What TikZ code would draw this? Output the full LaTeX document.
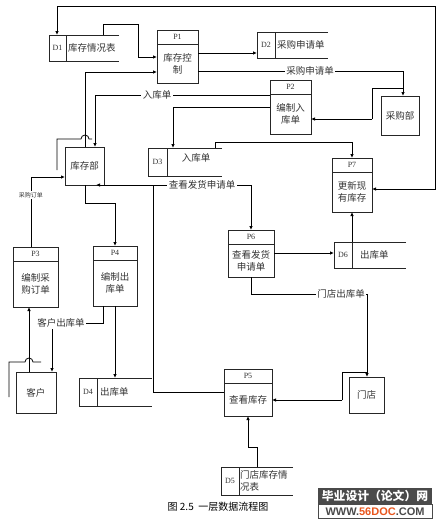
\documentclass[tikz,border=0pt]{standalone}
\usepackage{fontspec}
\setmainfont{Liberation Serif}
\newfontfamily\cjk{Noto Sans CJK SC}
\newfontfamily\wmfont{Liberation Sans}
\usetikzlibrary{arrows.meta,positioning,calc}
\definecolor{wmgray}{HTML}{4A4A4A}
\definecolor{wmorange}{HTML}{E8561E}
\tikzset{
  >={Latex[length=4pt,width=3.5pt]},
  box/.style={draw=black!85,line width=0.8pt},
  proc/.style={box,inner sep=0pt,outer sep=0pt},
  ent/.style={box,inner sep=0pt,outer sep=0pt},
  store/.style={inner sep=0pt,outer sep=0pt},
  txt/.style={font=\cjk\fontsize{9.5}{12}\selectfont,align=center,inner sep=1pt,text=black!80},
  pid/.style={font=\fontsize{8}{9}\selectfont,inner sep=0pt,text=black!80},
  lbl/.style={txt,fill=white,inner sep=1.5pt},
  line/.style={line width=0.8pt},
  flow/.style={line,->},
}
\begin{document}
\begin{tikzpicture}[x=1pt,y=-1pt]
  \useasboundingbox (0,0) rectangle (443,525);
  % processes
  \node[proc,minimum width=41,minimum height=53] (p1) at (177.5,56.5) {};
  \node[proc,minimum width=41,minimum height=54] (p2) at (290.5,107) {};
  \node[proc,minimum width=45,minimum height=60] (p3) at (35.5,277) {};
  \node[proc,minimum width=44,minimum height=60] (p4) at (115,276) {};
  \node[proc,minimum width=48,minimum height=47] (p5) at (248,392.5) {};
  \node[proc,minimum width=46,minimum height=47] (p6) at (251,253.5) {};
  \node[proc,minimum width=40,minimum height=54] (p7) at (352,185) {};
  \foreach \p/\i in {p1/P1,p2/P2,p3/P3,p4/P4,p5/P5,p6/P6,p7/P7} {
    \draw[box] ($(\p.north west)+(0,14)$) -- ($(\p.north east)+(0,14)$);
    \node[pid] (\p-id) at ($(\p.north)+(0,7)$) {\i};
  }
  \node[txt] (p1-t) at ($(p1.center)+(0,7)$) {库存控\\制};
  \node[txt] (p2-t) at ($(p2.center)+(0,7)$) {编制入\\库单};
  \node[txt] (p3-t) at ($(p3.center)+(0,7)$) {编制采\\购订单};
  \node[txt] (p4-t) at ($(p4.center)+(0,7)$) {编制出\\库单};
  \node[txt] (p5-t) at ($(p5.center)+(0,7)$) {查看库存};
  \node[txt] (p6-t) at ($(p6.center)+(0,7)$) {查看发货\\申请单};
  \node[txt] (p7-t) at ($(p7.center)+(0,7)$) {更新现\\有库存};
  % data stores
  \node[store,minimum width=70,minimum height=26] (d1) at (84,48) {};
  \node[store,minimum width=71,minimum height=26] (d2) at (292.5,45) {};
  \node[store,minimum width=74,minimum height=28] (d3) at (185,162) {};
  \node[store,minimum width=73,minimum height=28] (d4) at (115.5,392) {};
  \node[store,minimum width=72,minimum height=28] (d5) at (257,481) {};
  \node[store,minimum width=72,minimum height=26] (d6) at (370,255) {};
  \foreach \d/\k/\i in {d1/17/D1,d2/18/D2,d3/19/D3,d4/18/D4,d5/18/D5,d6/18/D6} {
    \draw[box] (\d.north east) -- (\d.north west) -- (\d.south west) -- (\d.south east)
      ($(\d.north west)+(\k,0)$) -- ($(\d.south west)+(\k,0)$);
    \node[pid] (\d-id) at ($(\d.west)+(\k/2,0)$) {\i};
  }
  \node[txt,anchor=west] (d1-t) at ($(d1.west)+(18,0)$) {库存情况表};
  \node[txt,anchor=west] (d2-t) at ($(d2.west)+(19,0)$) {采购申请单};
  \node[txt] (d3-t) at (196,158) {入库单};
  \node[txt,anchor=west] (d4-t) at ($(d4.west)+(20,0)$) {出库单};
  \node[txt,anchor=west,align=left] (d5-t) at ($(d5.west)+(18,0)$) {门店库存情\\况表};
  \node[txt,anchor=west] (d6-t) at ($(d6.west)+(25,0)$) {出库单};
  % external entities
  \node[txt,ent,minimum width=39,minimum height=38] (kc) at (84.5,166) {库存部};
  \node[txt,ent,minimum width=38,minimum height=39] (cg) at (400,115.5) {采购部};
  \node[txt,ent,minimum width=40,minimum height=41] (kh) at (36,392.5) {客户};
  \node[txt,ent,minimum width=35,minimum height=36] (md) at (366.5,395) {门店};
  \coordinate (cgb) at (372,119);
  \coordinate (mdb) at (342,400);
  \draw[line] (57,170) -- (57,139) -- (81,139) arc[start angle=180,end angle=360,radius=4] -- (92,139);
  \draw[line] (9,397) -- (9,362) -- (25,362) arc[start angle=180,end angle=360,radius=4] -- (41,362);
  \draw[line] (cgb) -- (372,88) -- (403,88);
  \draw[line] (mdb) -- (342,372) -- (367,372);
  % flows
  \draw[line,<->] ($(d1.north west)+(8,0)$) |- (435,6) |- (p7.east |- 0,189);
  \draw[flow] ($(d1.north west)+(54,0)$) |- (138,24) |- (p1.west |- 0,57);
  \draw[flow] (p1.east |- 0,53) -- (d2.west |- 0,53);
  \draw[flow] (p1.east |- 0,71) -| (cg.north -| 403,0);
  \node[lbl] (l1) at (310,71) {采购申请单};
  \draw[flow] (kc.north -| 85,0) |- (p1.west |- 0,72);
  \draw[flow] (p2.west |- 0,95) -| (kc.north -| 95,0);
  \node[lbl] (l2) at (157,95) {入库单};
  \draw[flow] (p2.west |- 0,107) -| (d3.north -| 173,0);
  \draw[flow] (cgb) -- (p2.east |- cgb);
  \draw[flow] (d3.north -| 215,0) -- (215,142) -| (p7.north);
  \draw[flow] (kc.south -| 85,0) -- (85,203) -| (p4.north);
  \draw[flow] (p3.north -| 31,0) |- (kc.west |- 0,177);
  \node[lbl,font=\cjk\fontsize{6}{7}\selectfont] (l3) at (31,195) {采购订单};
  \draw[flow] (p5.west) -| (153,185) -- ($(kc.south east)+(-8,0)$);
  \draw[flow] (153,185) -| (p6.north);
  \node[lbl] (l4) at (202,185) {查看发货申请单};
  \draw[flow] (p6.east |- 0,253) -- (d6.west |- 0,253);
  \draw[flow] (d6.north -| p7.south) -- (p7.south);
  \draw[flow] (p6.south) |- (367,294) -- (md.north -| 367,0);
  \node[lbl] (l5) at (341,294) {门店出库单};
  \draw[flow] (mdb) -- (p5.east |- mdb);
  \draw[flow] (d5.north -| 257,0) -- (257,447) -| (p5.south);
  \draw[flow] (p4.south) -- (d4.north -| p4.south);
  \draw[flow] (p4.south -| 103,0) |- (52,323) -- (kh.north -| 52,0);
  \node[lbl] (l6) at (61,323) {客户出库单};
  \draw[flow] (kh.north -| 29,0) -- (p3.south -| 29,0);
  % caption and watermark
  \node[font=\cjk\fontsize{10}{12}\selectfont] (cap) at (218,507) {图 2.5\ \ 一层数据流程图};
  \fill[wmgray] (318,488) rectangle (432,504);
  \draw[wmgray,fill=white,line width=0.8pt] (318,504) rectangle (432,518);
  \node[font=\cjk\bfseries\fontsize{11.8}{13}\selectfont,text=white,inner sep=0pt] (wm1) at (375,496) {毕业设计（论文）网};
  \node[font=\wmfont\bfseries\fontsize{11}{12}\selectfont,text=wmgray,inner sep=0pt] (wm2) at (375,511.5) {WWW.\textcolor{wmorange}{56DOC}.COM};
\end{tikzpicture}
\end{document}
